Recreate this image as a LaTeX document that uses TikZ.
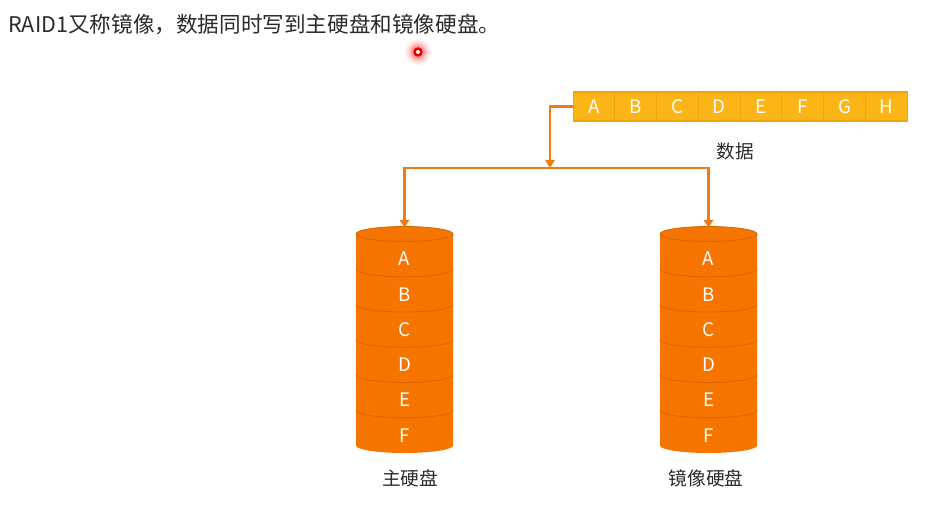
\documentclass[tikz,border=0pt]{standalone}
\usepackage{fontspec}
\setmainfont{Noto Sans CJK SC}
\usetikzlibrary{arrows.meta}
\definecolor{cellfill}{HTML}{FCB517}
\definecolor{celledge}{HTML}{F2A20C}
\definecolor{diskfill}{HTML}{F57500}
\definecolor{diskedge}{HTML}{D96400}
\definecolor{arrowc}{HTML}{F27A12}
\definecolor{textc}{HTML}{2B2B2B}
\tikzset{
  cellbox/.style={draw=celledge, line width=0.8pt, fill=cellfill, minimum width=31.3pt, minimum height=21.75pt, inner sep=0pt, text=white, font=\fontsize{14pt}{14pt}\selectfont},
  disklet/.style={text=white, font=\fontsize{14pt}{14pt}\selectfont, inner sep=0pt},
  lbl/.style={text=textc, font=\fontsize{14pt}{14pt}\selectfont, inner sep=0pt},
  arr/.style={draw=arrowc, line width=1.6pt, -{Triangle[width=7pt,length=6pt]}},
  diskarea/.style={minimum width=72.75pt, minimum height=169.5pt, inner sep=0pt}
}
\newcommand{\mydisk}[2]{%
  % #1 center x, #2 name
  \begin{scope}[shift={(#1,0)}]
    \fill[diskfill] (-48.5,234) -- (-48.5,445.5) arc[start angle=180,end angle=0,x radius=48.5,y radius=7.5] -- (48.5,234) arc[start angle=0,end angle=-180,x radius=48.5,y radius=7.5] -- cycle;
    \draw[diskedge, line width=0.6pt] (0,234) ellipse[x radius=48.5, y radius=7.5];
    \foreach \k in {1,...,5} {
      \draw[diskedge, line width=0.6pt] (-48.5,234+35.25*\k) arc[start angle=180,end angle=0,x radius=48.5,y radius=7.5];
    }
    \foreach \l [count=\i from 0] in {A,B,C,D,E,F} {
      \node[disklet] (#2-\l) at (0,259+35.25*\i) {\l};
    }
  \end{scope}
  \node[diskarea] (#2) at (#1,341.25) {};
}
\begin{document}
\begin{tikzpicture}[x=0.75pt,y=-0.75pt]
\useasboundingbox (0,0) rectangle (927,506);
\fill[white] (0,0) rectangle (927,506);
% title
\node[anchor=west, text=textc, font=\fontsize{16.2pt}{17pt}\selectfont, inner sep=0pt] (title) at (8,24) {RAID1又称镜像，数据同时写到主硬盘和镜像硬盘。};
% laser pointer dot
\foreach \r/\o in {13/0.06,11/0.08,9/0.12,7/0.2} {\fill[red, opacity=\o] (418,52) circle[radius=\r];}
\fill[red!90!black] (418,52) circle[radius=4.8];
\fill[white] (418,52) circle[radius=2];
% data bar
\foreach \l [count=\i from 0] in {A,B,C,D,E,F,G,H} {
  \node[cellbox] (c\l) at (594+41.75*\i,106.5) {\l};
}
\node[lbl] (datalbl) at (735,151) {数据};
% disks
\mydisk{404.5}{d1}
\mydisk{708.5}{d2}
\node[lbl] (lbl1) at (410,478) {主硬盘};
\node[lbl] (lbl2) at (706,478) {镜像硬盘};
% connectors
\coordinate (split) at (550,168);
\draw[arr] (cA.west) -| (split);
\draw[arr] (split) -| (d1.north);
\draw[arr] (split) -| (d2.north);
\end{tikzpicture}
\end{document}
